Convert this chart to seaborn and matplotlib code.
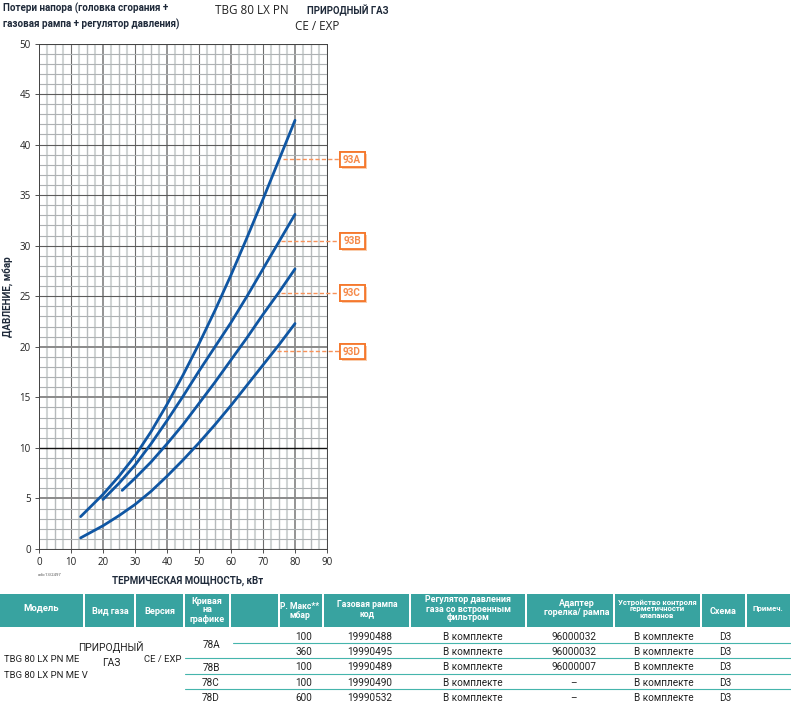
import matplotlib
matplotlib.use('Agg')
import matplotlib.pyplot as plt
import matplotlib.patheffects as pe
from matplotlib.patches import Rectangle
import numpy as np
import pandas as pd
import seaborn as sns

power_a = [13, 20, 25, 30, 35, 40, 45, 50, 55, 60, 65, 70, 75, 80]
loss_a = [3.2, 5.4, 7.2, 9.2, 11.6, 14.3, 17.2, 20.3, 23.6, 27.1, 30.8, 34.6, 38.5, 42.4]
power_b = [20, 25, 30, 35, 40, 45, 50, 55, 60, 65, 70, 75, 80]
loss_b = [4.9, 6.5, 8.3, 10.4, 12.7, 15.1, 17.6, 20.0, 22.4, 25.0, 27.7, 30.4, 33.1]
power_c = [26, 30, 35, 40, 45, 50, 55, 60, 65, 70, 75, 80]
loss_c = [5.8, 7.0, 8.6, 10.4, 12.3, 14.4, 16.5, 18.7, 20.9, 23.2, 25.4, 27.7]
power_d = [13, 20, 25, 30, 35, 40, 45, 50, 55, 60, 65, 70, 75, 80]
loss_d = [1.1, 2.3, 3.3, 4.4, 5.7, 7.2, 8.8, 10.5, 12.3, 14.2, 16.2, 18.2, 20.2, 22.3]

curve_labels = ['93A', '93B', '93C', '93D']
label_levels = [38.55, 30.5, 25.35, 19.55]
label_starts = [76.2, 75.6, 75.6, 74.4]

headers = ['Модель', 'Вид газа', 'Версия', 'Кривая\nна\nграфике', '', 'Р. Макс**\nмбар',
           'Газовая рампа\nкод', 'Регулятор давления\nгаза со встроенным\nфильтром',
           'Адаптер\nгорелка/ рампа', 'Устройство контроля\nгерметичности\nклапанов',
           'Схема', 'Примеч.']
curve_rows = ['78A', '78B', '78C', '78D']
p_max = ['100', '360', '100', '100', '600']
ramp_code = ['19990488', '19990495', '19990489', '19990490', '19990532']
regulator = ['В комплекте'] * 5
adapter = ['96000032', '96000032', '96000007', '–', '–']
leak_check = ['В комплекте'] * 5
scheme = ['D3'] * 5

W, H = 791, 704
NARROW = ['Roboto', 'DejaVu Sans']
TEAL = '#38a3a0'
ORANGE = '#f5782d'
BLUE = '#0f56a3'
INK = '#1f2a3a'

sns.set_style('white')
plt.rcParams['font.family'] = ['Open Sans', 'DejaVu Sans']

fig = plt.figure(figsize=(W / 100, H / 100), dpi=100)
ax = fig.add_axes([39 / W, 1 - 549 / H, 288 / W, 505.5 / H])

# grid paper
for x in np.arange(0, 90.1, 2.5):
    if x % 20 == 0:
        ax.axvline(x, color='#949494', lw=1.4, zorder=1)
    elif x % 10 == 0:
        ax.axvline(x, color='#6e6e6e', lw=0.8, zorder=1)
    elif x % 5 == 0:
        ax.axvline(x, color='#b6babc', lw=1.0, zorder=1)
    else:
        ax.axvline(x, color='#d0d4d4', lw=1.5, zorder=1)
for y in np.arange(0, 50.1, 1):
    if y == 10:
        ax.axhline(y, color='#111111', lw=1.0, zorder=1.2)
    elif y in (5, 15, 20):
        ax.axhline(y, color='#8a8a8a', lw=1.4, zorder=1.1)
    elif y % 5 == 0:
        ax.axhline(y, color='#5c5c5c', lw=0.8, zorder=1.1)
    else:
        ax.axhline(y, color='#adb1b3', lw=0.8, zorder=1)

curves = pd.concat([
    pd.DataFrame({'power': power_a, 'loss': loss_a, 'curve': '93A'}),
    pd.DataFrame({'power': power_b, 'loss': loss_b, 'curve': '93B'}),
    pd.DataFrame({'power': power_c, 'loss': loss_c, 'curve': '93C'}),
    pd.DataFrame({'power': power_d, 'loss': loss_d, 'curve': '93D'}),
])
sns.lineplot(data=curves, x='power', y='loss', hue='curve', palette=[BLUE] * 4,
             lw=2.0, legend=False, ax=ax, zorder=3, estimator=None, sort=False)

ax.set_xlim(0, 90)
ax.set_ylim(0, 50)
ax.set_xticks(range(0, 91, 10))
ax.set_yticks(range(0, 51, 5))
ax.tick_params(labelsize=7, length=3, width=0.6, pad=3, color='#333333', labelcolor='#222222',
               left=True, bottom=True)
ax.set_xlabel('')
ax.set_ylabel('')
for s in ax.spines.values():
    s.set_color('#444444')
    s.set_linewidth(0.7)

# pixel overlay for labels and the table
ov = fig.add_axes([0, 0, 1, 1], zorder=5)
ov.set_xlim(0, W)
ov.set_ylim(H, 0)
ov.axis('off')
ov.patch.set_alpha(0)

HEAD = dict(family=NARROW, weight='bold', color=INK)
ov.text(3, 8, 'Потери напора (головка сгорания +', fontsize=7.1, va='center', **HEAD)
ov.text(3, 24, 'газовая рампа + регулятор давления)', fontsize=7.1, va='center', **HEAD)
ov.text(215, 10, 'TBG 80 LX PN', fontsize=8.4, va='center', color='#222222')
ov.text(307, 11, 'ПРИРОДНЫЙ ГАЗ', fontsize=6.9, va='center', **HEAD)
ov.text(295, 27, 'CE / EXP', fontsize=8.4, va='center', color='#222222')
ov.text(8, 297, 'ДАВЛЕНИЕ, мбар', fontsize=7.1, rotation=90, ha='center', va='center', **HEAD)
ov.text(188, 581, 'ТЕРМИЧЕСКАЯ МОЩНОСТЬ, кВт', fontsize=7.0, ha='center', va='center', **HEAD)
ov.text(38, 575, 'edic13/2497', fontsize=3, va='center', color='#444444')

# curve callouts
shadow = [pe.withSimplePatchShadow(offset=(1.5, -1.5), shadow_rgbFace='#f9c9a6', alpha=0.9), pe.Normal()]
for name, level, start in zip(curve_labels, label_levels, label_starts):
    ax.plot([start, 93.7], [level, level], color='#f7925a', lw=1, ls=(0, (3, 1.6)),
            clip_on=False, zorder=4)
    yp = 549 - level * 10.11
    r = Rectangle((339.5, yp - 7.5), 25, 15.5, fc='white', ec=ORANGE, lw=1.3, zorder=6)
    r.set_path_effects(shadow)
    ov.add_patch(r)
    ov.text(352, yp + 0.3, name, fontsize=7.2, ha='center', va='center', family=NARROW, weight='bold',
            color='#f58a4a', zorder=7)

# table header
col_edges = [(0, 83), (85, 134), (136, 183), (185, 229), (231, 278), (280, 322), (324, 409),
             (411, 525), (527, 613), (615, 700), (702, 745), (747, 790)]
col_text_x = [41, 110, 160, 207, 254, 300, 367, 468, 577, 657, 723, 768]
col_text_y = [608, 611, 611, 610, 610, 611, 609, 609, 608, 609, 611, 609]
col_sizes = [6.8, 6.5, 6.6, 6.5, 6.5, 6.2, 6.2, 6.4, 6.4, 5.6, 6.4, 5.6]
for (x0, x1), tx, ty, txt, fs in zip(col_edges, col_text_x, col_text_y, headers, col_sizes):
    ov.add_patch(Rectangle((x0, 594), x1 - x0, 33, fc=TEAL, ec='none'))
    ov.text(tx, ty, txt, fontsize=fs, ha='center', va='center', family=NARROW, weight='bold',
            color='white', linespacing=1.0)

# table rules
for y, x0 in [(643, 233), (658, 185), (674, 185), (689, 185)]:
    ov.plot([x0, W], [y, y], color='#45b5ac', lw=0.8)

BODY = dict(family=NARROW, fontsize=7.2, ha='center', va='center', color='#222222')
ov.text(4, 660, 'TBG 80 LX PN ME', family=NARROW, fontsize=6.8, va='center', color='#222222')
ov.text(4, 675, 'TBG 80 LX PN ME V', family=NARROW, fontsize=6.8, va='center', color='#222222')
ov.text(111, 647, 'ПРИРОДНЫЙ', family=NARROW, fontsize=7.4, ha='center', va='center', color='#222222')
ov.text(111, 663, 'ГАЗ', family=NARROW, fontsize=7.4, ha='center', va='center', color='#222222')
ov.text(163, 659, 'CE / EXP', family=NARROW, fontsize=6.8, ha='center', va='center', color='#222222')

for name, y in zip(curve_rows, [645, 668, 683, 698]):
    ov.text(211, y, name, **BODY)
row_y = [637, 652, 667, 683, 698]
for y, pm, code, reg, ad, lk, sc in zip(row_y, p_max, ramp_code, regulator, adapter, leak_check, scheme):
    ov.text(304, y, pm, **BODY)
    ov.text(370, y, code, **BODY)
    ov.text(473, y, reg, **BODY)
    ov.text(574, y, ad, **BODY)
    ov.text(664, y, lk, **BODY)
    ov.text(725, y, sc, **BODY)

fig.savefig('out.png', dpi=100, facecolor='white')
